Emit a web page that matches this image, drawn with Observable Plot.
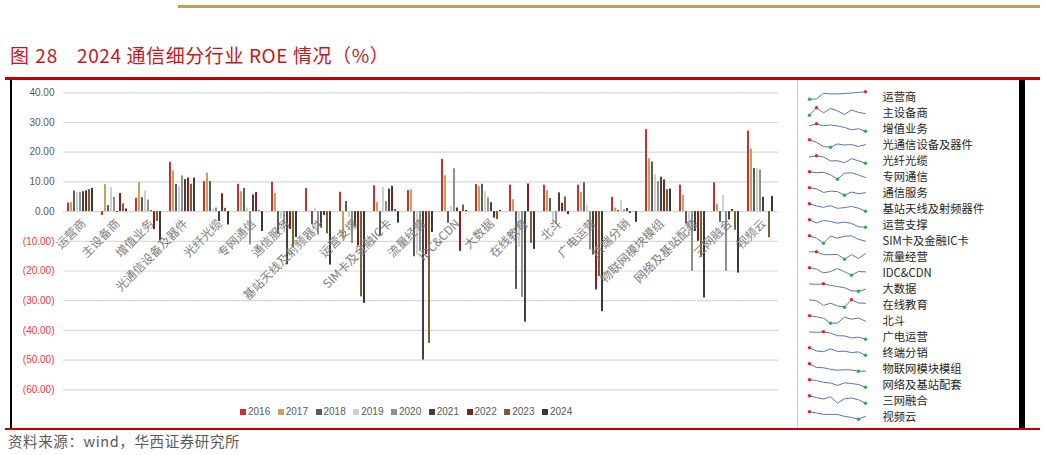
<!DOCTYPE html>
<html>
<head>
<meta charset="utf-8">
<script src="https://cdn.jsdelivr.net/npm/d3@7"></script>
<script src="https://cdn.jsdelivr.net/npm/@observablehq/plot@0.6"></script>
<style>
  html, body { margin: 0; padding: 0; background: #fff; }
  body { width: 1044px; height: 455px; position: relative; overflow: hidden; font-family: "Noto Sans CJK SC", "Liberation Sans", sans-serif; }
  .abs { position: absolute; }
  .lg-swatch { margin-right: 7.5px !important; }
  .lg-swatch > svg { margin-right: 2px !important; }
</style>
</head>
<body>
<div class="abs" style="left:178px;top:5px;width:862px;height:2.5px;background:#c89b5c;"></div>
<div class="abs" style="left:10px;top:45px;font-size:19px;line-height:20px;color:#c4161c;letter-spacing:1px;">图 28</div>
<div class="abs" style="left:77px;top:45px;font-size:19px;line-height:20px;color:#c4161c;letter-spacing:0.6px;white-space:nowrap;">2024 通信细分行业 ROE 情况（%）</div>
<div class="abs" style="left:5px;top:77px;width:1035px;height:2.5px;background:#c00000;"></div>
<div class="abs" style="left:5px;top:427.5px;width:1035px;height:2.5px;background:#c00000;"></div>
<div class="abs" style="left:10px;top:80px;width:1.5px;height:348px;background:#000;"></div>
<div class="abs" style="left:797px;top:80px;width:1px;height:348px;background:#c8c8c8;"></div>
<div class="abs" style="left:1019px;top:80px;width:6px;height:348px;background:#000;"></div>
<div id="main" class="abs" style="left:10px;top:80px;"></div>
<div id="spark" class="abs" style="left:797px;top:80px;"></div>
<div id="legend" class="abs" style="left:240px;top:395px;"></div>
<div class="abs" style="left:8px;top:432px;font-size:14.5px;line-height:18px;color:#595959;letter-spacing:0.6px;white-space:nowrap;">资料来源：wind，华西证券研究所</div>
<script>
const categories = ["运营商","主设备商","增值业务","光通信设备及器件","光纤光缆","专网通信","通信服务","基站天线及射频器件","运营支撑","SIM卡及金融IC卡","流量经营","IDC&CDN","大数据","在线教育","北斗","广电运营","终端分销","物联网模块模组","网络及基站配套","三网融合","视频云"];
const years = ["2016","2017","2018","2019","2020","2021","2022","2023","2024"];
const yearColors = ["#d62b2f","#c9a05e","#5a5a5a","#cfcfcf","#8f8f8f","#414141","#8a1c1f","#7b5f2f","#383838"];

const roe2016 = [2.9, -1.3, 4.5, 16.6, 10.1, 9.2, 9.9, 7.8, 6.5, 8.7, 7.1, 17.6, 9.1, 8.9, 8.9, 8.9, 4.8, 27.6, 8.9, 9.7, 27.1];
const roe2017 = [3.0, 9.1, 9.8, 13.7, 12.9, 6.7, 6.1, 0.2, -9.4, 3.1, 7.3, 12.1, 8.4, 4.0, 7.1, 6.5, 1.2, 17.8, 5.4, 2.5, 21.1];
const roe2018 = [6.9, 2.0, 4.7, 9.1, 10.1, 7.8, -7.6, -4.4, 3.4, -8.4, -15.2, -3.9, 9.2, -26.2, 4.4, 9.7, 0.4, 16.7, -4.2, -3.6, 14.5];
const roe2019 = [6.4, 8.1, 6.9, 8.4, 0.8, 1.2, -2.5, 1.2, -1.9, 8.1, -14.6, 1.7, 6.7, -12.0, -4.6, 2.2, 3.7, 12.4, -7.5, 5.4, 14.4];
const roe2020 = [6.4, 4.8, 3.9, 12.0, 1.2, -11.2, -4.5, -7.9, -10.7, 3.4, -13.4, 14.4, 4.7, -28.9, -4.3, -12.9, 0.6, 10.1, -20.1, -20.1, 14.0];
const roe2021 = [6.7, -0.3, 0.3, 10.8, -3.3, 5.6, -17.9, -5.5, -5.3, 7.6, -50.0, 1.2, 3.0, -37.2, 6.3, -14.6, 1.0, 11.6, -6.7, -2.8, 4.8];
const roe2022 = [7.0, 6.1, -6.1, 11.3, 6.0, 6.4, -6.0, -1.3, -11.6, 8.5, -14.5, -13.4, -2.2, 9.3, 2.8, -26.4, -0.6, 10.7, -10.0, 0.7, 0.0];
const roe2023 = [7.4, 2.6, -3.3, 9.2, 1.1, 0.3, -12.1, -7.5, -28.7, 0.7, -44.4, 2.2, -2.7, -10.7, 4.9, -21.8, 0.1, 7.4, -15.4, -6.3, -8.8];
const roe2024 = [7.8, 0.9, -9.8, 11.3, -4.5, -6.7, -8.7, -18.0, -30.9, -3.9, -7.0, 0.4, 0.4, -12.7, -1.0, -33.7, -3.6, 7.6, -29.1, -20.7, 5.1];

const yTicks = [40, 30, 20, 10, 0, -10, -20, -30, -40, -50, -60];

const series = [roe2016, roe2017, roe2018, roe2019, roe2020, roe2021, roe2022, roe2023, roe2024];
const rows = categories.flatMap((c, i) => years.map((y, j) => ({cat: c, year: y, value: series[j][i]})));

// sparkline table: each category normalised to its own min/max (like Excel sparklines)
const spark = categories.flatMap((c, i) => {
  const vals = series.map(s => s[i]);
  const mn = Math.min(...vals), mx = Math.max(...vals);
  const iMin = vals.indexOf(mn), iMax = vals.indexOf(mx);
  return vals.map((v, j) => ({cat: c, year: years[j], norm: (v - mn) / (mx - mn), isMin: j === iMin, isMax: j === iMax}));
});

const fmtPos = d => d3.format(".2f")(d);
const fmtNeg = d => "(" + d3.format(".2f")(Math.abs(d)) + ")";

const main = Plot.plot({
  width: 787,
  height: 348,
  marginLeft: 47,
  marginRight: 12,
  marginTop: 12.3,
  marginBottom: 38.7,
  style: {fontFamily: "'Liberation Sans', 'Noto Sans CJK SC', sans-serif", fontSize: "10px", overflow: "visible", background: "transparent"},
  fx: {domain: categories, paddingInner: 0.14, paddingOuter: 0.07, axis: null, label: null},
  x: {domain: years, paddingInner: 0.3, paddingOuter: 0.15, axis: null},
  y: {domain: [-60, 40], axis: null},
  color: {domain: years, range: yearColors},
  marks: [
    Plot.ruleY(yTicks, {stroke: "#d9d9d9", strokeWidth: 1.2, insetLeft: -2.9, insetRight: -2.9}),
    Plot.barY(rows, {fx: "cat", x: "year", y: "value", fill: "year"}),
    Plot.axisY(yTicks.filter(d => d >= 0), {tickSize: 0, tickPadding: 12, tickFormat: fmtPos, color: "#595959", label: null, fontSize: 10}),
    Plot.axisY(yTicks.filter(d => d < 0), {tickSize: 0, tickPadding: 12, tickFormat: fmtNeg, color: "#ff3333", label: null, fontSize: 10}),
    Plot.text(categories, {fx: d => d, y: () => 0, text: d => d, rotate: -45, textAnchor: "end", dx: 3, dy: 10, fill: "#7f7f7f", fontSize: 12, fontFamily: "'Noto Sans CJK SC', sans-serif"})
  ]
});
document.getElementById("main").appendChild(main);

const sp = Plot.plot({
  width: 222,
  height: 352,
  marginLeft: 5,
  marginRight: 147,
  marginTop: 1.7,
  marginBottom: 0.65,
  style: {fontFamily: "'Noto Sans CJK SC', sans-serif", overflow: "visible", background: "transparent"},
  fy: {domain: categories, padding: 0, axis: null, label: null},
  x: {type: "point", domain: years, axis: null},
  y: {domain: [0, 1], axis: null, insetTop: 2.3, insetBottom: 6.3},
  marks: [
    Plot.lineY(spark, {fy: "cat", x: "year", y: "norm", stroke: "#5677ad", strokeWidth: 1}),
    Plot.dot(spark, {filter: d => d.isMax, fy: "cat", x: "year", y: "norm", r: 1.7, fill: "#e0262b", stroke: "none"}),
    Plot.dot(spark, {filter: d => d.isMin, fy: "cat", x: "year", y: "norm", r: 1.7, fill: "#22b14c", stroke: "none"}),
    Plot.text(categories, {fy: d => d, text: d => d, frameAnchor: "left", dx: 80, fontSize: 11.3, fill: "#262626", letterSpacing: "2.2px"})
  ]
});
document.getElementById("spark").appendChild(sp);

const lg = Plot.legend({
  color: {type: "ordinal", domain: years, range: yearColors},
  swatchSize: 6,
  className: "lg",
  style: {fontFamily: "'Liberation Sans', sans-serif", fontSize: "10px", color: "#595959", background: "transparent"}
});
document.getElementById("legend").appendChild(lg);
</script>
</body>
</html>
